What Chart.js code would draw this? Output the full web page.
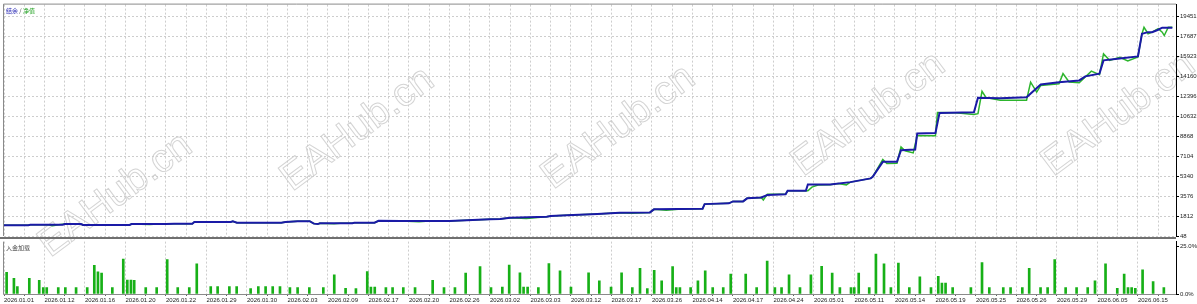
<!DOCTYPE html>
<html>
<head>
<meta charset="utf-8">
<script src="https://cdn.jsdelivr.net/npm/chart.js@4.4.0/dist/chart.umd.min.js"></script>
<style>
  html, body { margin: 0; padding: 0; background: #fff; }
  #wrap { position: relative; width: 1197px; height: 304px; overflow: hidden; background: #fff; }
  #wrap canvas { position: absolute; left: 0; }
  #top { top: 0; }
  #bot { top: 237px; }
</style>
</head>
<body>
<div id="wrap">
  <canvas id="top" width="1197" height="304"></canvas>
  <canvas id="bot" width="1197" height="67"></canvas>
</div>
<script>
// balance / equity, x = trade number
const balanceX = [0,12,13,29,30,38,39,62,63,80, 84,93,94,112,113,115,137,139,145,151,
  153,155,156,172,173,183,185,196,220,240, 245,250,268,270,278,293,304,319,321,345,
  346,358,360,365,367,374,377,386,387,396, 397,408,418,428,429,434,441,443,450,451,
  460,462,479,481,492,505,512,521,531,534, 541,543,551,560,562,565,567,570,572,577];
const balanceY = [1000,1000,1040,1040,1100,1100,1020,1020,1100,1100, 1130,1130,1280,1280,1340,1220,1220,1280,1350,1350,
  1140,1100,1170,1170,1220,1220,1390,1370,1370,1520, 1540,1660,1750,1810,1870,1980,2100,2130,2400,2450,
  2860,2930,3100,3100,3370,3450,3660,3720,4030,4030, 4600,4600,4800,5130,5270,6590,6590,7620,7680,9090,
  9140,10900,10960,12250,12190,12280,13420,13600,13770,14130, 14370,15540,15710,15890,17890,18030,18030,18240,18420,18420];

const equityX = [0,12,13,22,24,27,30,38,39,62, 63,72,76,84,93,94,112,113,115,137,
  139,145,151,153,155,156,163,166,172,173, 183,185,196,205,210,220,240,245,250,258,
  262,268,270,278,293,304,310,319,321,327, 333,345,346,358,360,365,367,374,375,377,
  386,387,397,399,402,408,412,416,418,428, 429,434,436,441,443,445,449,451,460,461,
  470,479,481,483,485,492,505,507,510,512, 521,523,526,531,537,541,543,546,551,555,
  560,562,563,565,567,570,572,573,575,577];
const equityY = [1000,1000,1040,1040,960,1040,1100,1100,1020,1020, 1100,1060,1100,1130,1130,1280,1280,1340,1220,1220,
  1280,1350,1350,1140,1100,1170,1130,1170,1170,1220, 1220,1390,1370,1300,1360,1370,1520,1540,1660,1600,
  1660,1750,1810,1870,1980,2100,2050,2130,2400,2330, 2400,2450,2860,2930,3100,3100,3370,3450,3220,3740,
  3720,4030,4030,4360,4540,4560,4680,4560,4800,5130, 5270,6790,6440,6470,7910,7560,7380,8880,8880,10940,
  10920,10760,10840,12810,12250,12020,12020,13620,12740,13330, 13480,14370,13630,13560,14590,14280,16120,15540,15800,15480,
  15830,17890,18460,17890,18030,18330,18030,17730,18460,18460];

// deposit load, %
const loadX = [1.3,4.9,6.6,12.5,17.4,19.4,21.1,26.8,30.3,35.6,
  41.1,44.6,46.4,48.2,53.5,58.9,60.9,62.7,64.3,70.0,
  75.4,80.6,85.8,91.5,95.2,102.1,105.5,111.3,114.9,121.8,
  125.6,129.2,132.7,136.3,141.2,145.0,150.8,157.7,163.1,168.7,
  173.8,179.4,181.2,183.1,188.6,191.9,197.2,203.0,211.7,217.3,
  222.7,228.0,235.1,240.5,246.1,249.5,254.8,256.6,258.6,263.9,
  269.1,274.6,280.0,288.7,294.0,299.8,305.0,310.3,314.1,317.7,
  321.1,324.8,330.2,332.0,333.8,339.1,342.7,346.3,350.0,355.2,
  358.9,366.3,371.7,376.9,380.7,384.0,387.7,393.1,398.5,403.8,
  409.0,412.8,418.3,419.9,422.1,427.3,430.6,434.6,438.0,441.7,
  447.1,452.3,457.8,461.4,463.2,465.0,468.5,477.5,483.0,486.6,
  493.5,497.1,502.9,506.3,511.9,515.4,518.9,524.3,529.7,535.2,
  538.8,544.0,549.8,553.2,555.1,556.9,558.7,562.3,567.5,572.8];
const loadPct = [11.4,8.2,3.9,8.2,7.2,3.3,3.3,3.3,3.3,3.3,
  3.3,15.0,11.6,10.9,3.3,18.3,7.3,7.3,7.2,3.3,
  3.3,18.0,3.3,3.3,15.8,3.9,3.9,3.9,3.9,2.8,
  3.9,3.9,3.9,3.9,3.3,3.3,3.3,3.3,10.1,3.0,
  2.8,11.8,3.6,3.6,3.3,3.3,3.3,3.3,7.2,3.3,
  3.3,10.9,14.4,3.3,3.6,15.2,11.1,3.6,3.6,3.3,
  16.0,12.1,3.6,11.1,6.9,3.6,11.1,3.3,13.4,2.8,
  12.4,6.9,14.4,3.3,3.3,3.3,6.9,12.1,3.3,3.3,
  10.5,10.5,3.3,17.2,3.3,3.3,10.1,3.3,10.1,14.5,
  10.9,3.3,3.3,3.3,10.9,3.3,20.9,15.8,3.3,16.2,
  3.3,9.0,3.3,9.3,5.7,5.7,3.3,3.3,16.5,3.3,
  3.3,3.3,3.3,13.4,3.3,3.3,18.0,3.3,3.3,3.3,
  6.9,15.8,3.0,10.5,3.3,3.3,3.0,12.6,6.5,3.3];

const dateLabels = ['2026.01.01','2026.01.12','2026.01.16','2026.01.20','2026.01.22','2026.01.29','2026.01.30',
  '2026.02.03','2026.02.09','2026.02.17','2026.02.20','2026.02.26','2026.03.02','2026.03.03','2026.03.12',
  '2026.03.17','2026.03.26','2026.04.14','2026.04.17','2026.04.24','2026.05.01','2026.05.11','2026.05.14',
  '2026.05.19','2026.05.25','2026.05.26','2026.05.29','2026.06.05','2026.06.15'];
const balanceTicks = [48,1812,3576,5340,7104,8868,10632,12396,14160,15923,17687,19451];
const loadTicks = [0, 25];

const X_MAX = 578.8;
const gridTicks = [];
for (let v = 0; v < X_MAX; v += 10) gridTicks.push(v);

Chart.defaults.font.family = '"Liberation Sans", Arial, sans-serif';
Chart.defaults.font.size = 6;
Chart.defaults.color = '#222';

const GRID = '#cdcdcd';
const DASH = [2, 2];

// panel frame, header text and the watermark
const topDecor = {
    id: 'topDecor',
    beforeDraw(chart) {
        const ctx = chart.ctx;
        ctx.save();
        ctx.font = '40px "Liberation Sans", Arial, sans-serif';
        ctx.strokeStyle = '#d4d4d4';
        ctx.lineWidth = 1;
        [[50, 258], [292, 192], [553, 190], [803, 177], [1053, 177]].forEach(([x, y]) => {
            ctx.save();
            ctx.translate(x, y);
            ctx.rotate(-0.64);
            ctx.strokeText('EAHub.cn', 0, 0);
            ctx.restore();
        });
        ctx.restore();
    },
    afterDraw(chart) {
        const {ctx, chartArea: a} = chart;
        ctx.save();
        ctx.strokeStyle = '#8a8a8a';
        ctx.lineWidth = 1;
        ctx.beginPath();
        ctx.moveTo(a.left - 0.5, a.bottom);
        ctx.lineTo(a.left - 0.5, a.top - 0.5);
        ctx.lineTo(a.right, a.top - 0.5);
        ctx.stroke();
        ctx.font = '6px "Noto Sans CJK SC", sans-serif';
        ctx.textBaseline = 'middle';
        let x = a.left + 2;
        const y = a.top + 6;
        [['结余', '#1c1cb0'], [' / ', '#333'], ['净值', '#1ea01e']].forEach(([t, c]) => {
            ctx.fillStyle = c;
            ctx.fillText(t, x, y);
            x += ctx.measureText(t).width;
        });
        ctx.restore();
    }
};

const botDecor = {
    id: 'botDecor',
    afterDraw(chart) {
        const {ctx, chartArea: a} = chart;
        ctx.save();
        ctx.strokeStyle = '#8a8a8a';
        ctx.lineWidth = 1;
        ctx.beginPath();
        ctx.moveTo(a.left - 0.5, a.top);
        ctx.lineTo(a.left - 0.5, a.bottom + 0.5);
        ctx.lineTo(a.right, a.bottom + 0.5);
        ctx.stroke();
        ctx.fillStyle = '#707070';
        ctx.fillRect(0, 0, a.right, 2);
        ctx.font = '6px "Noto Sans CJK SC", sans-serif';
        ctx.textBaseline = 'middle';
        ctx.fillStyle = '#444';
        ctx.fillText('入金加载', a.left + 2, a.top + 6);
        ctx.restore();
    }
};

new Chart(document.getElementById('top'), {
    type: 'line',
    data: {
        datasets: [{
            label: '结余',
            data: balanceX.map((x, i) => ({x, y: balanceY[i]})),
            borderColor: '#1a1aa6',
            borderWidth: 2,
            pointRadius: 0,
            tension: 0,
        }, {
            label: '净值',
            data: equityX.map((x, i) => ({x, y: equityY[i]})),
            borderColor: '#2db52d',
            borderWidth: 1.5,
            pointRadius: 0,
            tension: 0,
        }],
    },
    options: {
        responsive: false,
        animation: false,
        devicePixelRatio: 1,
        layout: { padding: { left: 4, top: 4, right: 0, bottom: 68 } },
        plugins: { legend: { display: false }, tooltip: { enabled: false } },
        scales: {
            x: {
                type: 'linear', min: 0, max: X_MAX,
                afterBuildTicks: s => { s.ticks = gridTicks.map(v => ({value: v})); },
                ticks: { display: false },
                grid: { color: GRID, drawTicks: false },
                border: { display: false, dash: DASH },
                afterFit: s => { s.height = 0; },
            },
            y: {
                position: 'right', min: 48, max: 20458,
                afterBuildTicks: s => { s.ticks = balanceTicks.map(v => ({value: v})); },
                ticks: { autoSkip: false, padding: 1, callback: v => String(v) },
                grid: { color: GRID, tickLength: 3, tickColor: '#000', tickBorderDash: [] },
                border: { display: true, color: '#000', width: 1, dash: DASH },
                afterFit: s => { s.width = 21; },
            },
        },
    },
    plugins: [topDecor],
});

new Chart(document.getElementById('bot'), {
    type: 'bar',
    data: {
        datasets: [{
            label: '入金加载',
            data: loadX.map((x, i) => ({x, y: loadPct[i]})),
            backgroundColor: '#17b017',
            borderWidth: 0,
            barThickness: 2,
        }],
    },
    options: {
        responsive: false,
        animation: false,
        devicePixelRatio: 1,
        layout: { padding: { left: 4, top: 1, right: 0, bottom: 0 } },
        plugins: { legend: { display: false }, tooltip: { enabled: false } },
        scales: {
            x: {
                type: 'linear', min: 0, max: X_MAX, offset: false,
                afterBuildTicks: s => { s.ticks = gridTicks.map(v => ({value: v})); },
                ticks: {
                    autoSkip: false, maxRotation: 0, minRotation: 0, align: 'start', padding: 1,
                    callback: v => (v % 20 === 0 ? dateLabels[v / 20] : ''),
                },
                grid: {
                    offset: false,
                    color: c => (c.tick && c.tick.value % 20 === 0 ? GRID : 'rgba(0,0,0,0)'),
                    tickLength: 2, tickColor: '#666', tickBorderDash: [],
                },
                border: { display: false, dash: DASH },
                afterFit: s => { s.height = 10; },
            },
            y: {
                position: 'right', min: 0, max: 27.45,
                afterBuildTicks: s => { s.ticks = loadTicks.map(v => ({value: v})); },
                ticks: { autoSkip: false, padding: 1, callback: v => v.toFixed(1) + '%' },
                grid: { drawOnChartArea: false, tickLength: 3, tickColor: '#000' },
                border: { display: true, color: '#000', width: 1 },
                afterFit: s => { s.width = 21; },
            },
        },
    },
    plugins: [botDecor],
});
</script>
</body>
</html>
